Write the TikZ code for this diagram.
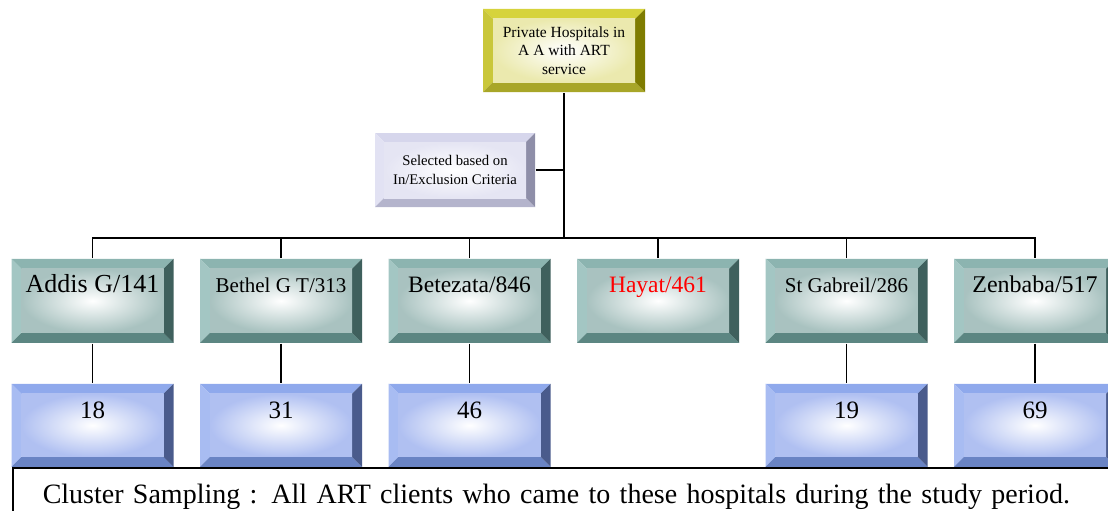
\documentclass[tikz,border=0pt]{standalone}
\usepackage{fontspec}
\setmainfont{Liberation Serif}
\usetikzlibrary{positioning}
\definecolor{olT}{HTML}{D6D33C}
\definecolor{olL}{HTML}{C9C73A}
\definecolor{olB}{HTML}{A8A628}
\definecolor{olR}{HTML}{7F7C00}
\definecolor{olF}{HTML}{E6E49A}
\definecolor{tT}{HTML}{8CB4B0}
\definecolor{tL}{HTML}{A3C6C3}
\definecolor{tB}{HTML}{5C8682}
\definecolor{tR}{HTML}{3F605D}
\definecolor{tF}{HTML}{93B3B0}
\definecolor{bT}{HTML}{8FA9EC}
\definecolor{bL}{HTML}{A8BCF2}
\definecolor{bB}{HTML}{6A84C4}
\definecolor{bR}{HTML}{4A5B8C}
\definecolor{bF}{HTML}{9CB0EE}
\definecolor{lT}{HTML}{D6D6EC}
\definecolor{lL}{HTML}{E2E2F3}
\definecolor{lB}{HTML}{B4B4CC}
\definecolor{lR}{HTML}{8E8EA8}
\definecolor{lF}{HTML}{DEDEF0}

\tikzset{
    bevel/.style n args={6}{
        fill=white, inner sep=0pt,
        path picture={
            \path (path picture bounding box.north west) coordinate (pnw)
                  (path picture bounding box.south east) coordinate (pse);
            \fill[#2] (pnw) -- (pnw -| pse) -- ([shift={(-#1,-#1)}]pnw -| pse)
                -- ([shift={(#1,-#1)}]pnw) -- cycle;
            \fill[#3] (pnw) -- ([shift={(#1,-#1)}]pnw) -- ([shift={(#1,#1)}]pnw |- pse)
                -- (pnw |- pse) -- cycle;
            \fill[#4] (pnw |- pse) -- ([shift={(#1,#1)}]pnw |- pse) -- ([shift={(-#1,#1)}]pse)
                -- (pse) -- cycle;
            \fill[#5] (pse) -- ([shift={(-#1,#1)}]pse) -- ([shift={(-#1,-#1)}]pnw -| pse)
                -- (pnw -| pse) -- cycle;
            \shade[inner color=white, outer color=#6!80] ([shift={(#1,-#1)}]pnw)
                rectangle ([shift={(-#1,#1)}]pse);
        }
    },
    topbox/.style={bevel={10pt}{olT}{olL}{olB}{olR}{olF}, minimum width=162pt,
        minimum height=83pt, align=center, font=\fontsize{15.5}{18.5}\selectfont},
    selbox/.style={bevel={9pt}{lT}{lL}{lB}{lR}{lF}, minimum width=160pt,
        minimum height=74pt, align=center, font=\fontsize{14.7}{19}\selectfont},
    hosp/.style={bevel={10pt}{tT}{tL}{tB}{tR}{tF}, anchor=north, minimum width=162pt,
        text height=34pt, text depth=50pt},
    samp/.style={bevel={10pt}{bT}{bL}{bB}{bR}{bF}, anchor=north, minimum width=162pt,
        text height=35pt, text depth=48pt, font=\fontsize{25}{30}\selectfont},
    cluster/.style={draw, anchor=north west, inner sep=0pt, inner xsep=30pt,
        text width=1080pt, align=left, text height=36pt, text depth=30pt,
        font=\fontsize{28}{34}\selectfont}
}

\begin{document}
\begin{tikzpicture}[x=1pt, y=-1pt, line width=1.5pt]
    \useasboundingbox (0,0) rectangle (1108,511);
    \clip (0,0) rectangle (1108,511);

    \node[topbox] (top) at (564,50.5) {Private Hospitals in\\A A with ART\\service};
    \node[selbox] (sel) at (455,170) {Selected based on\\In/Exclusion Criteria};

    \coordinate (bus) at (564,238);

    \node[hosp, font=\fontsize{26}{30}\selectfont] (h1) at (92.5,258) {Addis G/141};
    \node[hosp, font=\fontsize{21}{25}\selectfont] (h2) at (281,258) {Bethel G T/313};
    \node[hosp, font=\fontsize{23.5}{28}\selectfont] (h3) at (469.5,258) {Betezata/846};
    \node[hosp, font=\fontsize{23.5}{28}\selectfont, text=red] (h4) at (658,258) {Hayat/461};
    \node[hosp, font=\fontsize{21}{25}\selectfont] (h5) at (846.5,258) {St Gabreil/286};
    \node[hosp, font=\fontsize{24}{28}\selectfont] (h6) at (1035,258) {Zenbaba/517};

    \node[samp] (s1) at (92.5,383) {18};
    \node[samp] (s2) at (281,383) {31};
    \node[samp] (s3) at (469.5,383) {46};
    \node[samp] (s5) at (846.5,383) {19};
    \node[samp] (s6) at (1035,383) {69};

    \node[cluster] (clu) at (12,467) {Cluster Sampling : All ART clients who came to these hospitals during the study period.};

    % tree lines
    \draw (top.south) -- (bus);
    \draw (sel.east) -- (sel.east -| bus);
    \draw (h1.north) |- (bus) -| (h6.north);
    \foreach \i in {2,...,5}
        \draw (h\i.north) -- (h\i.north |- bus);
    \foreach \i in {1,2,3,5,6}
        \draw (h\i.south) -- (s\i.north);
\end{tikzpicture}
\end{document}
